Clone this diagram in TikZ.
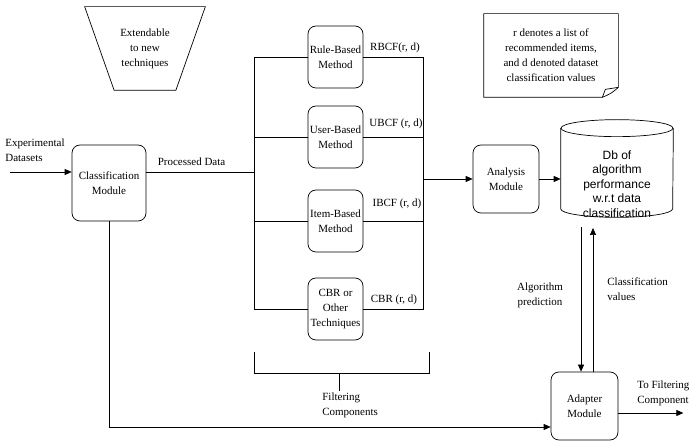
\documentclass[tikz,border=0pt]{standalone}
\usepackage{fontspec}
\setmainfont{Liberation Serif}
\newfontfamily\dbfont{Liberation Sans}
\usetikzlibrary{arrows.meta, positioning}

\begin{document}
\begin{tikzpicture}[x=1pt,y=-1pt,line width=0.7pt,>={Triangle[length=7pt,width=6pt]},
        every node/.style={font=\fontsize{11}{15}\selectfont,inner sep=1pt},
        module/.style={draw,rounded corners=8pt,align=center},
        method/.style={draw,rounded corners=8pt,align=center,minimum width=55pt,minimum height=62pt}]
  \useasboundingbox (0,0) rectangle (691,443);

  % blocks
  \node[minimum width=120pt,minimum height=83pt,align=center] (extend) at (145,48.5) {Extendable\\to new\\techniques};
  \draw (extend.north west) -- (extend.north east) -- ([xshift=-29.5pt]extend.south east)
        -- ([xshift=29.5pt]extend.south west) -- cycle;
  \node[module,minimum width=74pt,minimum height=76pt] (classif) at (109,183) {Classification\\Module};
  \node[method] (rule) at (335.5,57)  {Rule-Based\\Method};
  \node[method] (user) at (335.5,137) {User-Based\\Method};
  \node[method] (item) at (335.5,221) {Item-Based\\Method};
  \node[method] (cbr)  at (335.5,309) {CBR or\\Other\\Techniques};
  \node[module,minimum width=66pt,minimum height=68pt] (analysis) at (506,179) {Analysis\\Module};
  % database drum
  \node[minimum width=112pt,minimum height=97pt] (db) at (617,168.5) {};
  \draw ([yshift=-8.5pt]db.north west) -- ([yshift=8.5pt]db.south west)
        arc[start angle=180,end angle=360,x radius=56pt,y radius=8.5pt]
        -- ([yshift=-8.5pt]db.north east);
  \draw ([yshift=-8.5pt]db.north) ellipse[x radius=56pt,y radius=8.5pt];
  \node[font=\dbfont\fontsize{12}{14.5}\selectfont,align=center] (dbtext) at (617,184) {Db of\\algorithm\\performance\\w.r.t data\\classification};
  \node[module,minimum width=67pt,minimum height=68pt] (adapter) at (584.5,406) {Adapter\\Module};
  \node[minimum width=134pt,minimum height=83pt,align=center] (memo) at (551,55.5)
       {r denotes a list of\\recommended items,\\and d denoted dataset\\classification values};
  \draw (memo.south west) -- (memo.north west) -- (memo.north east) -- ([yshift=10pt]memo.south east)
        .. controls ([xshift=-7pt,yshift=4pt]memo.south east) .. ([xshift=-16pt]memo.south east) -- cycle;
  \draw ([xshift=-16pt]memo.south east) -- ([xshift=-13pt,yshift=8pt]memo.south east) -- ([yshift=10pt]memo.south east);

  % buses
  \coordinate (lbus) at (254,0);
  \coordinate (rbus) at (423,0);
  \draw (rule.west) -- (rule.west -| lbus) -- (cbr.west -| lbus) -- (cbr.west);
  \draw (user.west) -- (user.west -| lbus);
  \draw (item.west) -- (item.west -| lbus);
  \draw (rule.east) -- (rule.east -| rbus) -- (cbr.east -| rbus) -- (cbr.east);
  \draw (user.east) -- (user.east -| rbus);
  \draw (item.east) -- (item.east -| rbus);
  \node (rbcf) at (395,48)  {RBCF(r, d)};
  \node (ubcf) at (396,124) {UBCF (r, d)};
  \node (ibcf) at (397,204) {IBCF (r, d)};
  \node (cbrv) at (394,300) {CBR (r, d)};

  % data flow
  \coordinate (datain) at (10,172);
  \node[align=left,anchor=west] (expdata) at (4,150.5) {Experimental\\Datasets};
  \draw[->] (datain) -- (datain -| classif.west);
  \draw ([yshift=11pt]classif.east) -- ([yshift=11pt]classif.east -| lbus)
        node[pos=0.42,above=5pt] (procdata) {Processed Data};
  \draw[->] (analysis.west -| rbus) -- (analysis.west);
  \draw[->] (analysis.east) -- (analysis.east -| db.west);

  % filtering components bracket
  \coordinate (fl) at (254,352);
  \coordinate (fr) at (429,352);
  \coordinate (ftick) at (339,373);
  \draw (fl) -- ++(0,21) -| (fr);
  \node[align=left,anchor=west] (filt) at (321,405) {Filtering\\Components};
  \draw (ftick) -- (ftick |- filt.north);

  % adapter
  \coordinate (predtop) at (581,227);
  \coordinate (valtop) at (593,228);
  \draw[->] (predtop) -- (predtop |- adapter.north);
  \draw[->] (valtop |- adapter.north) -- (valtop);
  \node[align=center] (pred) at (540,295.5) {Algorithm\\prediction};
  \node[align=left,anchor=west] (vals) at (606,289) {Classification\\values};
  \draw[->] (classif.south) |- ([yshift=-21pt]adapter.west);
  \draw[->] ([yshift=-7pt]adapter.east) -- ++(65,0);
  \node[align=left,anchor=west] (tofilt) at (636,393.5) {To Filtering\\Component};
\end{tikzpicture}
\end{document}
